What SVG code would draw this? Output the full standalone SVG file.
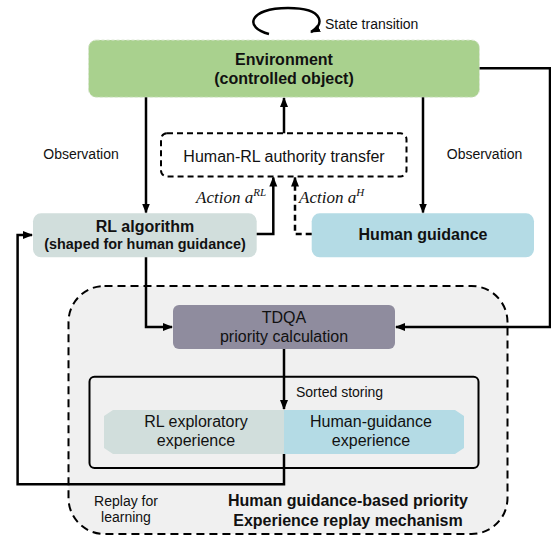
<svg xmlns="http://www.w3.org/2000/svg" width="551" height="536" viewBox="0 0 551 536">
<defs>
<marker id="ah" viewBox="0 0 10 10" refX="9" refY="5" markerWidth="10" markerHeight="10" markerUnits="userSpaceOnUse" orient="auto">
<path d="M0,1 L10,5 L0,9 z" fill="#000"/>
</marker>
<style>
.t{font-family:"Liberation Sans",Arial,sans-serif;fill:#111;}
.b{font-weight:bold;}
.m{font-family:"Liberation Serif","Times New Roman",serif;font-style:italic;fill:#111;font-size:17px;}
.c{fill:none;stroke:#000;stroke-width:2.5;}
</style>
</defs>
<rect width="551" height="536" fill="#fff"/>

<g id="replay-region">
<rect x="68.5" y="286" width="439" height="248" rx="36" fill="#f0f0f0" stroke="#000" stroke-width="2" stroke-dasharray="8 5"/>
<text class="t b" x="348" y="506" font-size="16" text-anchor="middle">Human guidance-based priority</text>
<text class="t b" x="348" y="526" font-size="16" text-anchor="middle">Experience replay mechanism</text>
</g>

<g id="environment">
<rect x="88.5" y="40" width="391" height="57.3" rx="8" fill="#a9d18e" stroke="#dde8d5" stroke-width="1" stroke-dasharray="3 2"/>
<text class="t b" x="284" y="65" font-size="16" text-anchor="middle">Environment</text>
<text class="t b" x="284" y="84" font-size="16" text-anchor="middle">(controlled object)</text>
</g>

<g id="authority-transfer">
<rect x="161" y="133.3" width="245.5" height="43.2" rx="6" fill="#fff" stroke="#000" stroke-width="2" stroke-dasharray="6 4"/>
<text class="t" x="284" y="161.5" font-size="16" text-anchor="middle">Human-RL authority transfer</text>
</g>

<g id="rl-algorithm">
<rect x="33" y="213.3" width="223.7" height="44" rx="8" fill="#d1dedc"/>
<text class="t b" x="145" y="231.7" font-size="16" text-anchor="middle">RL algorithm</text>
<text class="t b" x="145" y="249.3" font-size="14.4" text-anchor="middle">(shaped for human guidance)</text>
</g>

<g id="human-guidance">
<rect x="311.7" y="213.3" width="222.3" height="44" rx="8" fill="#b4dbe5"/>
<text class="t b" x="423" y="240" font-size="16" text-anchor="middle">Human guidance</text>
</g>

<g id="tdqa">
<rect x="173" y="305" width="222" height="44" rx="6" fill="#8f8c9e"/>
<text class="t" x="284" y="323.3" font-size="16" text-anchor="middle">TDQA</text>
<text class="t" x="284" y="341.7" font-size="16" text-anchor="middle">priority calculation</text>
</g>

<g id="buffer">
<rect x="89.5" y="376.7" width="389" height="91.3" rx="5" fill="none" stroke="#000" stroke-width="2"/>
</g>

<g id="rl-experience">
<polygon points="113,410 284,410 284,454 113,454 104,448 104,416" fill="#d1dedc"/>
<text class="t" x="196" y="426.7" font-size="16" text-anchor="middle">RL exploratory</text>
<text class="t" x="196" y="446" font-size="16" text-anchor="middle">experience</text>
</g>

<g id="human-experience">
<polygon points="284,410 455,410 464,416 464,448 455,454 284,454" fill="#b4dbe5"/>
<text class="t" x="371" y="426.7" font-size="16" text-anchor="middle">Human-guidance</text>
<text class="t" x="371" y="446" font-size="16" text-anchor="middle">experience</text>
</g>

<g id="connectors">
<path class="c" d="M269,34 C244,28 248,8 288,8 C326,8 324,26 311,32" marker-end="url(#ah)"/>
<path class="c" d="M284,133.3 V98" marker-end="url(#ah)"/>
<path class="c" d="M146,97.3 V212.5" marker-end="url(#ah)"/>
<path class="c" d="M423,97.3 V212.5" marker-end="url(#ah)"/>
<path class="c" d="M479.6,68.3 H550 V327 H396" marker-end="url(#ah)"/>
<path class="c" d="M256.7,234 H273.3 V177.5" marker-end="url(#ah)"/>
<path class="c" d="M311.7,234 H295 V177.5" stroke-dasharray="6 4" marker-end="url(#ah)"/>
<path class="c" d="M146,257.3 V327 H172" marker-end="url(#ah)"/>
<path class="c" d="M284,349 V409" marker-end="url(#ah)"/>
<path class="c" d="M284,454 V484.3 H17.6 V235 H32" marker-end="url(#ah)"/>
<text class="t" x="325" y="29.3" font-size="14">State transition</text>
<text class="t" x="81" y="159" font-size="14" text-anchor="middle">Observation</text>
<text class="t" x="484.5" y="159" font-size="14" text-anchor="middle">Observation</text>
<text class="m" x="266" y="203" text-anchor="end">Action a<tspan font-size="11" dy="-7">RL</tspan></text>
<text class="m" x="299" y="203">Action a<tspan font-size="11" dy="-7">H</tspan></text>
<text class="t" x="126" y="506" font-size="14" text-anchor="middle">Replay for</text>
<text class="t" x="126" y="522" font-size="14" text-anchor="middle">learning</text>
<text class="t" x="296" y="397.3" font-size="14">Sorted storing</text>
</g>
</svg>
